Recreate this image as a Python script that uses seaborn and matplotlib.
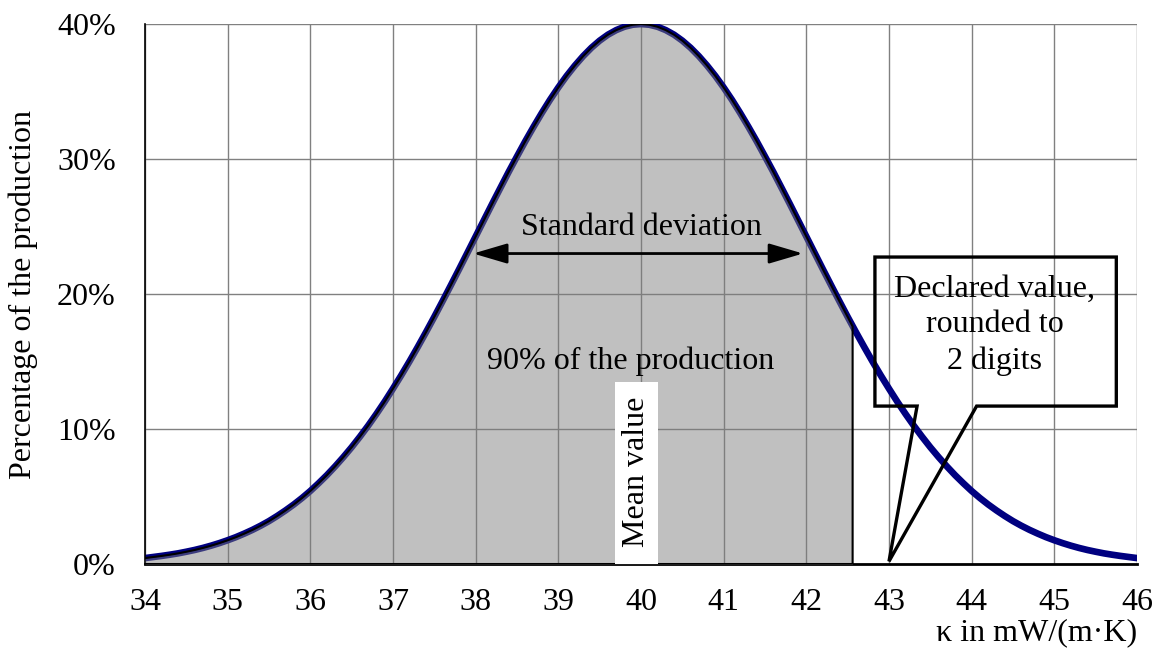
import matplotlib
matplotlib.use("Agg")
import matplotlib.pyplot as plt
from matplotlib.patches import Polygon, Rectangle
from matplotlib.ticker import MultipleLocator, FixedLocator
import seaborn as sns
import pandas as pd

# --- DATA ---
kappa = [34.0, 34.1, 34.2, 34.3, 34.4, 34.5, 34.6, 34.7, 34.8, 34.9,
         35.0, 35.1, 35.2, 35.3, 35.4, 35.5, 35.6, 35.7, 35.8, 35.9,
         36.0, 36.1, 36.2, 36.3, 36.4, 36.5, 36.6, 36.7, 36.8, 36.9,
         37.0, 37.1, 37.2, 37.3, 37.4, 37.5, 37.6, 37.7, 37.8, 37.9,
         38.0, 38.1, 38.2, 38.3, 38.4, 38.5, 38.6, 38.7, 38.8, 38.9,
         39.0, 39.1, 39.2, 39.3, 39.4, 39.5, 39.6, 39.7, 39.8, 39.9,
         40.0, 40.1, 40.2, 40.3, 40.4, 40.5, 40.6, 40.7, 40.8, 40.9,
         41.0, 41.1, 41.2, 41.3, 41.4, 41.5, 41.6, 41.7, 41.8, 41.9,
         42.0, 42.1, 42.2, 42.3, 42.4, 42.5, 42.6, 42.7, 42.8, 42.9,
         43.0, 43.1, 43.2, 43.3, 43.4, 43.5, 43.6, 43.7, 43.8, 43.9,
         44.0, 44.1, 44.2, 44.3, 44.4, 44.5, 44.6, 44.7, 44.8, 44.9,
         45.0, 45.1, 45.2, 45.3, 45.4, 45.5, 45.6, 45.7, 45.8, 45.9,
         46.0]
share = [0.44, 0.52, 0.60, 0.69, 0.79, 0.91, 1.04, 1.19, 1.36, 1.55,
         1.76, 1.99, 2.25, 2.53, 2.84, 3.18, 3.56, 3.97, 4.41, 4.89,
         5.41, 5.98, 6.58, 7.23, 7.92, 8.65, 9.43, 10.25, 11.12, 12.03,
         12.99, 13.98, 15.01, 16.08, 17.18, 18.31, 19.47, 20.65, 21.84, 23.05,
         24.26, 25.47, 26.68, 27.87, 29.05, 30.19, 31.31, 32.38, 33.41, 34.39,
         35.30, 36.15, 36.92, 37.62, 38.24, 38.77, 39.21, 39.55, 39.80, 39.95,
         40.00, 39.95, 39.80, 39.55, 39.21, 38.77, 38.24, 37.62, 36.92, 36.15,
         35.30, 34.39, 33.41, 32.38, 31.31, 30.19, 29.05, 27.87, 26.68, 25.47,
         24.26, 23.05, 21.84, 20.65, 19.47, 18.31, 17.18, 16.08, 15.01, 13.98,
         12.99, 12.03, 11.12, 10.25, 9.43, 8.65, 7.92, 7.23, 6.58, 5.98,
         5.41, 4.89, 4.41, 3.97, 3.56, 3.18, 2.84, 2.53, 2.25, 1.99,
         1.76, 1.55, 1.36, 1.19, 1.04, 0.91, 0.79, 0.69, 0.60, 0.52,
         0.44]

# fin de la zone grise : 90 % de la production
cut_kappa = 42.56
cut_share = 17.6

x_ticks = [34, 35, 36, 37, 38, 39, 40, 41, 42, 43, 44, 45, 46]
y_ticks = [0, 10, 20, 30, 40]
y_tick_labels = ["0%", "10%", "20%", "30%", "40%"]

df = pd.DataFrame({"kappa": kappa, "share": share})
df_area = df[df["kappa"] <= cut_kappa]
area_x = list(df_area["kappa"]) + [cut_kappa]
area_y = list(df_area["share"]) + [cut_share]

# --- STYLE ---
sns.set_theme(style="white")
plt.rcParams["font.family"] = ["Liberation Serif", "DejaVu Serif"]
plt.rcParams["text.color"] = "black"
plt.rcParams["axes.labelcolor"] = "black"
FS = 23

fig = plt.figure(figsize=(11.59, 6.48), dpi=100)
ax = fig.add_axes([0.1251, 0.1296, 0.8559, 0.8333])

# courbe principale
sns.lineplot(data=df, x="kappa", y="share", color="#000080", linewidth=4.8, ax=ax, zorder=2)

# zone grise + contour noir
ax.fill_between(area_x, 0, area_y, color="#7c7c7c", alpha=0.48, linewidth=0, zorder=3)
contour_x = area_x + [cut_kappa, area_x[0]]
contour_y = area_y + [0, 0]
ax.plot(contour_x, contour_y, color="black", linewidth=1.5, zorder=4)

# axes
ax.set_xlim(34, 46)
ax.set_ylim(0, 40)
ax.xaxis.set_major_locator(FixedLocator(x_ticks))
ax.yaxis.set_major_locator(FixedLocator(y_ticks))
ax.set_yticklabels(y_tick_labels)
ax.xaxis.set_minor_locator(MultipleLocator(0.2))
ax.yaxis.set_minor_locator(MultipleLocator(2))
ax.grid(True, which="major", color="#808080", linewidth=1.0, zorder=0)
ax.set_axisbelow(True)
ax.tick_params(axis="x", which="both", direction="in", length=5, width=1, colors="black", pad=17, labelsize=FS)
ax.tick_params(axis="y", which="both", direction="in", length=6, width=1, colors="black", pad=21, labelsize=FS)
ax.tick_params(axis="both", which="major", length=0)
for s in ["top", "right"]:
    ax.spines[s].set_visible(False)
ax.spines["left"].set_color("black")
ax.spines["left"].set_linewidth(1.2)
ax.spines["bottom"].set_color("black")
ax.spines["bottom"].set_linewidth(2)

ax.set_ylabel("Percentage of the production", fontsize=FS, labelpad=14)
ax.set_xlabel("\u03ba in mW/(m\u00b7K)", fontsize=FS, loc="right", labelpad=1)

# annotations
ax.annotate("", xy=(37.97, 23.0), xytext=(41.96, 23.0),
            arrowprops=dict(arrowstyle="<|-|>,head_length=0.95,head_width=0.28",
                            color="black", lw=2, mutation_scale=22, shrinkA=0, shrinkB=0),
            zorder=5)
ax.text(40.0, 24.9, "Standard deviation", ha="center", va="center", fontsize=FS, zorder=5)
ax.text(39.87, 15.0, "90% of the production", ha="center", va="center", fontsize=FS, zorder=5)
ax.add_patch(Rectangle((39.685, 0.0), 0.52, 13.48, facecolor="white", edgecolor="none", zorder=5))
ax.text(39.945, 6.8, "Mean value", rotation=90, ha="center", va="center", fontsize=FS, zorder=6)

callout = Polygon([(42.83, 11.7), (42.83, 22.74), (45.75, 22.74), (45.75, 11.7),
                   (44.06, 11.7), (43.0, 0.2), (43.34, 11.7)],
                  closed=True, fill=False, edgecolor="black", linewidth=2.4,
                  joinstyle="miter", zorder=5)
ax.add_patch(callout)
ax.text(44.28, 17.7, "Declared value,\nrounded to\n2 digits", ha="center", va="center",
        fontsize=FS, linespacing=1.3, zorder=6)

fig.savefig("out.png", dpi=100)
